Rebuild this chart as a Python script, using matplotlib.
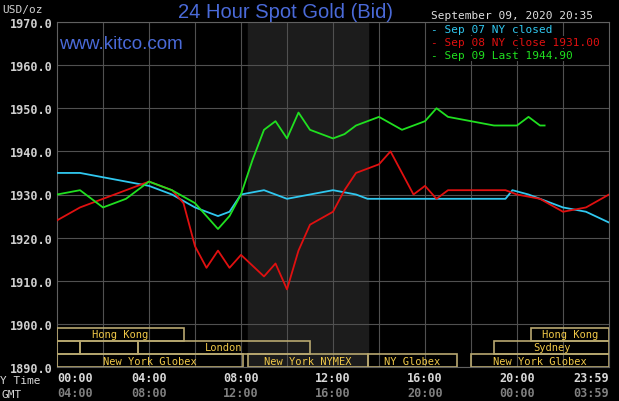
import matplotlib
matplotlib.use("Agg")
import matplotlib.pyplot as plt
from matplotlib.patches import Rectangle

# Series (hour of NY day, price)
sep07_h = [0, 1, 2, 3, 4, 5, 6, 7, 7.5, 8, 9, 10, 11, 12, 13, 13.5, 19.5, 19.8, 20.5, 21, 22, 23, 24]
sep07_v = [1935, 1935, 1934, 1933, 1932, 1930, 1927, 1925, 1926, 1930, 1931, 1929, 1930, 1931, 1930, 1929,
           1929, 1931, 1930, 1929, 1927, 1926, 1923.5]
sep08_h = [0, 1, 2, 3, 4, 5, 5.5, 6, 6.5, 7, 7.5, 8, 9, 9.5, 10, 10.5, 11, 12, 12.5, 13, 14, 14.5, 15, 15.5,
           16, 16.5, 17, 19.5, 20, 21, 22, 23, 24]
sep08_v = [1924, 1927, 1929, 1931, 1933, 1931, 1928, 1918, 1913, 1917, 1913, 1916, 1911, 1914, 1908, 1917,
           1923, 1926, 1931, 1935, 1937, 1940, 1935, 1930, 1932, 1929, 1931, 1931, 1930, 1929, 1926, 1927, 1930]
sep09_h = [0, 1, 2, 3, 4, 5, 6, 7, 7.5, 8, 8.5, 9, 9.5, 10, 10.5, 11, 12, 12.5, 13, 14, 15, 16, 16.5, 17,
           18, 19, 20, 20.5, 21, 21.2]
sep09_v = [1930, 1931, 1927, 1929, 1933, 1931, 1928, 1922, 1925, 1930, 1938, 1945, 1947, 1943, 1949, 1945,
           1943, 1944, 1946, 1948, 1945, 1947, 1950, 1948, 1947, 1946, 1946, 1948, 1946, 1946]

y_ticks = [1890, 1900, 1910, 1920, 1930, 1940, 1950, 1960, 1970]
ny_labels = ["00:00", "04:00", "08:00", "12:00", "16:00", "20:00", "23:59"]
gmt_labels = ["04:00", "08:00", "12:00", "16:00", "20:00", "00:00", "03:59"]
label_hours = [0, 4, 8, 12, 16, 20, 24]

# market boxes: (start, end, row, label)
markets = [(0, 5.5, 0, "Hong Kong"), (20.6, 24, 0, "Hong Kong"),
           (0, 1, 1, ""), (1, 3.5, 1, ""), (3.5, 11, 1, "London"), (19, 24, 1, "Sydney"),
           (0, 8.1, 2, "New York Globex"), (8.3, 13.5, 2, "New York NYMEX"),
           (13.5, 17.4, 2, "NY Globex"), (18, 24, 2, "New York Globex")]
row_y = [(1896.1, 1899.1), (1893.0, 1896.1), (1890.0, 1893.0)]

mono = "DejaVu Sans Mono"
fig = plt.figure(figsize=(6.19, 4.02), dpi=100, facecolor="black")
ax = fig.add_axes([57 / 619, 34 / 402, 552 / 619, 345 / 402], facecolor="black")
ax.set_xlim(0, 24)
ax.set_ylim(1890, 1970)

ax.axvspan(8.3, 13.5, color="#1c1c1c", zorder=0)
for y in y_ticks:
    ax.axhline(y, color="#505050", lw=0.8, zorder=1)
for h in range(2, 24, 2):
    ax.axvline(h, color="#505050", lw=0.8, zorder=1)

for s, e, r, lab in markets:
    y0, y1 = row_y[r]
    ax.add_patch(Rectangle((s, y0), e - s, y1 - y0, fill=False, ec="#b8a870", lw=1.2, zorder=3))
    if lab:
        ax.text((s + e) / 2, (y0 + y1) / 2, lab, color="#f0c848", fontsize=7.5, family=mono,
                ha="center", va="center", zorder=4)

ax.plot(sep07_h, sep07_v, color="#30c8f0", lw=1.3, zorder=5)
ax.plot(sep08_h, sep08_v, color="#e01010", lw=1.3, zorder=5)
ax.plot(sep09_h, sep09_v, color="#20e020", lw=1.3, zorder=6)

ax.set_yticks(y_ticks)
ax.set_yticklabels([f"{v}.0" for v in y_ticks], color="#d0d0d0", family=mono, fontsize=8.5, weight="bold")
ax.tick_params(axis="y", length=0, pad=3)
ax.set_xticks([])
for sp in ax.spines.values():
    sp.set_color("#606060")

for h, ny, gmt in zip(label_hours, ny_labels, gmt_labels):
    ha = "left" if h == 0 else ("right" if h == 24 else "center")
    ax.text(h, 1887.5, ny, color="#d8d8d8", family=mono, fontsize=8.5, weight="bold", ha=ha, va="center")
    ax.text(h, 1884, gmt, color="#808080", family=mono, fontsize=8.5, weight="bold", ha=ha, va="center")
fig.text(0, 21 / 402, "Y Time", color="#d8d8d8", family=mono, fontsize=8, va="center")
fig.text(2 / 619, 7 / 402, "GMT", color="#d8d8d8", family=mono, fontsize=8, va="center")
fig.text(2 / 619, 392 / 402, "USD/oz", color="#d0d0d0", family=mono, fontsize=8, va="center")

fig.text(285 / 619, 389 / 402, "24 Hour Spot Gold (Bid)", color="#4a6ad8", family="Liberation Sans",
         fontsize=14.5, ha="center", va="center")
ax.text(0.1, 1965, "www.kitco.com", color="#4a6ad8", family="Liberation Sans", fontsize=13.5,
        va="center", zorder=7)

fig.text(431 / 619, 386 / 402, "September 09, 2020 20:35", color="#e0e0e0", family=mono, fontsize=8, va="center")
leg = [("- Sep 07 NY closed", "#30c8f0"), ("- Sep 08 NY close 1931.00", "#e01010"),
       ("- Sep 09 Last 1944.90", "#20e020")]
for i, (t, c) in enumerate(leg):
    fig.text(431 / 619, (372 - 13 * i) / 402, t, color=c, family=mono, fontsize=8, va="center",
             bbox=dict(fc="black", ec="none", pad=0.5))

fig.savefig("out.png", dpi=100, facecolor="black")
